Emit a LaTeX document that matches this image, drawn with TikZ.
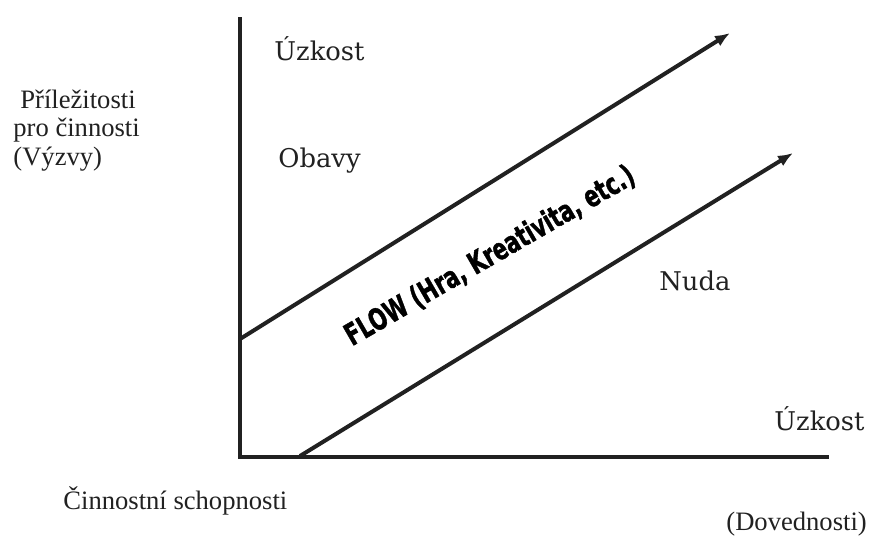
\documentclass[tikz,border=0pt]{standalone}
\usepackage{fontspec}
\usepackage{graphicx}
\setmainfont{Liberation Serif}
\newfontfamily\bookfont{DejaVu Serif}
\newfontfamily\flowfont{DejaVu Sans}[BoldFeatures={FakeBold=1.6}]
\usetikzlibrary{arrows.meta}
\definecolor{ink}{gray}{0.13}
\tikzset{
  zone/.style={font=\bookfont\fontsize{12.9}{14}\selectfont,text=ink,inner sep=0pt},
  axlabel/.style={font=\fontsize{13.3}{14.25}\selectfont,text=ink,inner sep=0pt},
}
\begin{document}
\begin{tikzpicture}[>={Latex[length=7.5pt,width=6pt]},x=0.5pt,y=-0.5pt]
  \useasboundingbox (0,0) rectangle (870,541);
  \coordinate (O) at (240,457);
  \coordinate (ytop) at (240,17);
  \coordinate (xend) at (829,457);
  \coordinate (hiStart) at (240,339);
  \coordinate (hiEnd) at (730,33);
  \coordinate (loStart) at (300,456);
  \coordinate (loEnd) at (793,153);
  % axes
  \draw[ink,line width=1.6pt] (ytop) -- (O) -- (xend);
  % flow channel
  \draw[->,ink,line width=2pt] (hiStart) -- (hiEnd);
  \draw[->,ink,line width=2pt] (loStart) -- (loEnd);
  \node[zone,anchor=base west] (uzkTop) at (274,60) {Úzkost};
  \node[zone,anchor=base west] (obavy) at (278,167) {Obavy};
  \node[zone,anchor=base west] (nuda) at (659,290) {Nuda};
  \node[zone,anchor=base west] (uzkRight) at (774,430) {Úzkost};
  \node[rotate=30,inner sep=0pt] (flow) at (490,256)
    {\scalebox{0.7}[1]{\flowfont\bfseries\fontsize{15}{16}\selectfont FLOW (Hra, Kreativita, etc.)}};
  \node[axlabel,anchor=base west,align=left] (vyzvy) at (13,165)
    {\hspace{3.5pt}Příležitosti\\pro činnosti\\(Výzvy)};
  \node[axlabel,anchor=base west] (schop) at (63,509) {Činnostní schopnosti};
  \node[axlabel,anchor=base west] (doved) at (726,530) {(Dovednosti)};
\end{tikzpicture}
\end{document}
